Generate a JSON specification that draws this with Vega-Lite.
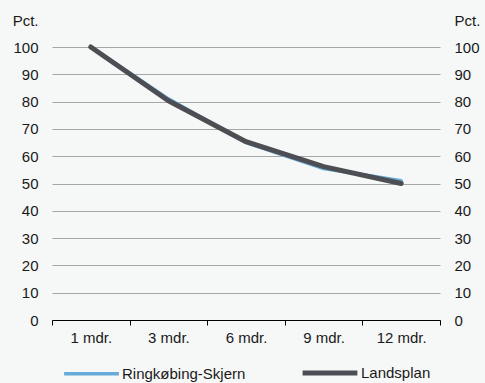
{
  "$schema": "https://vega.github.io/schema/vega-lite/v6.json",
  "width": 388,
  "height": 273,
  "autosize": "none",
  "padding": {"left": 52, "top": 47, "right": 45, "bottom": 63},
  "background": "#f6f7f7",
  "config": {
    "view": {"stroke": null},
    "font": "Liberation Sans",
    "axis": {"labelFont": "Liberation Sans", "labelFontSize": 15, "labelColor": "#1a1a1a", "titleFont": "Liberation Sans", "titleFontSize": 15, "titleFontWeight": "normal", "titleColor": "#1a1a1a"},
    "legend": {"labelFont": "Liberation Sans", "labelFontSize": 15, "labelColor": "#1a1a1a"}
  },
  "data": {
    "values": [
      {"periode": "1 mdr.", "serie": "Ringkøbing-Skjern", "pct": 100},
      {"periode": "3 mdr.", "serie": "Ringkøbing-Skjern", "pct": 81},
      {"periode": "6 mdr.", "serie": "Ringkøbing-Skjern", "pct": 65},
      {"periode": "9 mdr.", "serie": "Ringkøbing-Skjern", "pct": 55.5},
      {"periode": "12 mdr.", "serie": "Ringkøbing-Skjern", "pct": 51},
      {"periode": "1 mdr.", "serie": "Landsplan", "pct": 100},
      {"periode": "3 mdr.", "serie": "Landsplan", "pct": 80.3},
      {"periode": "6 mdr.", "serie": "Landsplan", "pct": 65.3},
      {"periode": "9 mdr.", "serie": "Landsplan", "pct": 56.2},
      {"periode": "12 mdr.", "serie": "Landsplan", "pct": 50}
    ]
  },
  "layer": [
    {
      "mark": {"type": "line", "strokeCap": "round", "strokeJoin": "round"},
      "encoding": {
        "x": {
          "field": "periode", "type": "nominal", "sort": null, "bandPosition": 0.5,
          "scale": {"type": "band", "paddingInner": 0, "paddingOuter": 0},
          "axis": {"title": null, "labelAngle": 0, "tickBand": "extent", "domainColor": "#000000", "tickColor": "#000000", "tickSize": 5, "labelPadding": 5, "grid": false}
        },
        "y": {
          "field": "pct", "type": "quantitative",
          "scale": {"domain": [0, 100]},
          "axis": {"title": "Pct.", "titleAngle": 0, "titleAlign": "right", "titleBaseline": "middle", "titleX": -14, "titleY": -27, "values": [0,10,20,30,40,50,60,70,80,90,100], "domain": false, "ticks": false, "labelPadding": 14, "gridColor": "#a6a6a6", "gridWidth": 1}
        },
        "color": {
          "field": "serie", "type": "nominal",
          "scale": {"domain": ["Ringkøbing-Skjern", "Landsplan"], "range": ["#66abda", "#4d4e53"]},
          "legend": {"title": null, "orient": "none", "legendX": 10, "legendY": 296, "direction": "horizontal", "symbolType": "stroke", "symbolSize": 3000, "symbolStrokeWidth": 5, "columnPadding": 46, "labelOffset": 1, "labelLimit": 300, "padding": 0}
        },
        "strokeWidth": {
          "field": "serie", "type": "nominal",
          "scale": {"domain": ["Ringkøbing-Skjern", "Landsplan"], "range": [3.5, 5]},
          "legend": null
        }
      }
    },
    {
      "mark": {"type": "rule", "opacity": 0},
      "encoding": {
        "y": {
          "field": "pct", "type": "quantitative",
          "axis": {"orient": "right", "title": "Pct.", "titleAngle": 0, "titleAlign": "left", "titleBaseline": "middle", "titleX": 14, "titleY": -27, "values": [0,10,20,30,40,50,60,70,80,90,100], "domain": false, "ticks": false, "grid": false, "labelPadding": 14}
        }
      }
    }
  ],
  "resolve": {"scale": {"y": "shared"}, "axis": {"y": "independent"}}
}
